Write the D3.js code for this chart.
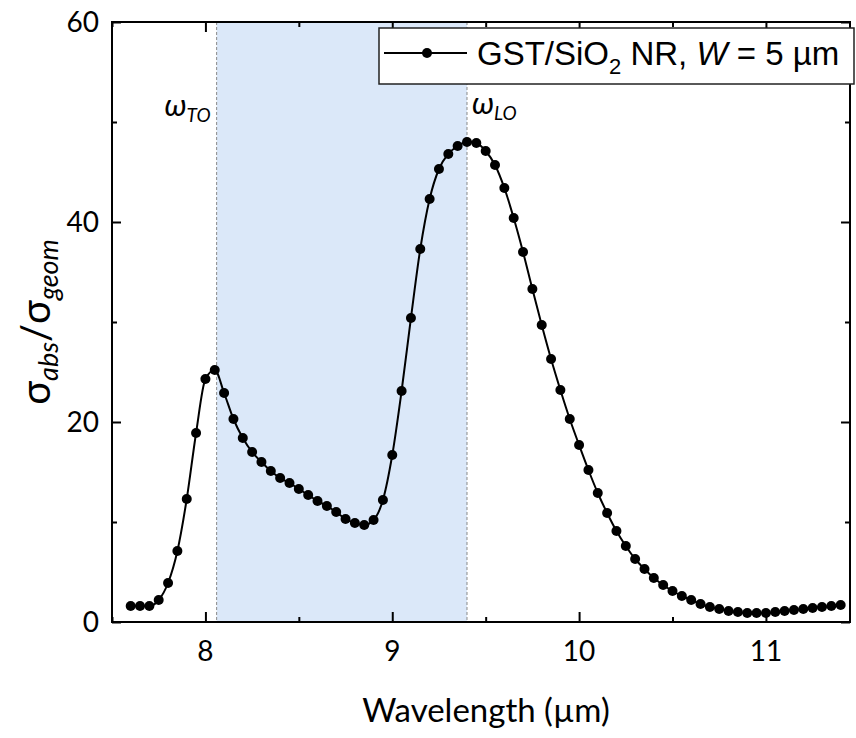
<!DOCTYPE html>
<html>
<head>
  <meta charset="utf-8">
  <script src="https://cdn.jsdelivr.net/npm/d3@7"></script>
  <style>
    * { margin: 0; padding: 0; }
    body { background: white; }
    .tick-label { font-family: Lato, "Open Sans", sans-serif; font-size: 28px; fill: black; }
    .axis-title { font-family: Lato, "Open Sans", sans-serif; fill: black; }
    .legend-text { font-family: "Liberation Sans", Arial, sans-serif; font-size: 33px; fill: black; }
  </style>
</head>
<body>
  <script>
    // data
    var wavelength = [7.60, 7.65, 7.70, 7.75, 7.80, 7.85, 7.90, 7.95, 8.00, 8.05,
      8.10, 8.15, 8.20, 8.25, 8.30, 8.35, 8.40, 8.45, 8.50, 8.55,
      8.60, 8.65, 8.70, 8.75, 8.80, 8.85, 8.90, 8.95, 9.00, 9.05,
      9.10, 9.15, 9.20, 9.25, 9.30, 9.35, 9.40, 9.45, 9.50, 9.55,
      9.60, 9.65, 9.70, 9.75, 9.80, 9.85, 9.90, 9.95, 10.00, 10.05,
      10.10, 10.15, 10.20, 10.25, 10.30, 10.35, 10.40, 10.45, 10.50, 10.55,
      10.60, 10.65, 10.70, 10.75, 10.80, 10.85, 10.90, 10.95, 11.00, 11.05,
      11.10, 11.15, 11.20, 11.25, 11.30, 11.35, 11.40];
    var sigmaRatio = [1.6, 1.6, 1.6, 2.2, 3.9, 7.1, 12.3, 18.9, 24.3, 25.2,
      22.9, 20.3, 18.4, 17.0, 16.0, 15.1, 14.4, 13.9, 13.3, 12.7,
      12.1, 11.6, 11.0, 10.3, 9.9, 9.7, 10.2, 12.2, 16.7, 23.1,
      30.4, 37.3, 42.3, 45.3, 46.8, 47.6, 48.0, 47.9, 47.1, 45.7,
      43.4, 40.4, 37.0, 33.3, 29.7, 26.3, 23.2, 20.3, 17.7, 15.2,
      12.9, 10.9, 9.1, 7.6, 6.3, 5.3, 4.4, 3.7, 3.1, 2.6,
      2.2, 1.8, 1.5, 1.3, 1.1, 1.0, 0.9, 0.9, 0.9, 1.0,
      1.1, 1.2, 1.3, 1.4, 1.5, 1.6, 1.7];
    var xTicks = [8, 9, 10, 11];
    var xMinor = [7.5, 8.5, 9.5, 10.5];
    var yTicks = [0, 20, 40, 60];
    var yMinor = [10, 30, 50];
    var omegaTO = 8.06;
    var omegaLO = 9.40;

    var w = 856, h = 738;
    var plotL = 112, plotR = 850, plotT = 22, plotB = 622;

    var x = d3.scaleLinear().domain([7.5, 11.45]).range([plotL, plotR]);
    var y = d3.scaleLinear().domain([0, 60]).range([plotB, plotT]);

    var svg = d3.select("body").append("svg")
      .attr("width", w)
      .attr("height", h);

    // reststrahlen band
    svg.append("rect")
      .attr("x", x(omegaTO))
      .attr("y", plotT)
      .attr("width", x(omegaLO) - x(omegaTO))
      .attr("height", plotB - plotT)
      .attr("fill", "#dbe8f9");

    svg.selectAll(".band-edge")
      .data([omegaTO, omegaLO])
      .enter().append("line")
      .attr("class", "band-edge")
      .attr("x1", function(d) { return x(d); })
      .attr("x2", function(d) { return x(d); })
      .attr("y1", plotT)
      .attr("y2", plotB)
      .attr("stroke", "#8a8a8a")
      .attr("stroke-width", 1)
      .attr("stroke-dasharray", "3,2");

    // axes: ticks pointing inward on all four sides, no labels from the generators
    function frame(axis, tr) {
      svg.append("g")
        .attr("transform", tr)
        .call(axis)
        .call(function(g) {
          g.selectAll("text").remove();
          g.select(".domain").remove();
          g.selectAll("line").attr("stroke", "black").attr("stroke-width", 2);
        });
    }
    frame(d3.axisBottom(x).tickValues(xTicks).tickSize(-10), "translate(0," + plotB + ")");
    frame(d3.axisBottom(x).tickValues(xMinor).tickSize(-5), "translate(0," + plotB + ")");
    frame(d3.axisTop(x).tickValues(xTicks).tickSize(-10), "translate(0," + plotT + ")");
    frame(d3.axisTop(x).tickValues(xMinor).tickSize(-5), "translate(0," + plotT + ")");
    frame(d3.axisLeft(y).tickValues(yTicks).tickSize(-9), "translate(" + plotL + ",0)");
    frame(d3.axisLeft(y).tickValues(yMinor).tickSize(-5), "translate(" + plotL + ",0)");
    frame(d3.axisRight(y).tickValues(yTicks).tickSize(-9), "translate(" + plotR + ",0)");
    frame(d3.axisRight(y).tickValues(yMinor).tickSize(-5), "translate(" + plotR + ",0)");

    svg.append("rect")
      .attr("x", plotL).attr("y", plotT)
      .attr("width", plotR - plotL).attr("height", plotB - plotT)
      .attr("fill", "none")
      .attr("stroke", "black")
      .attr("stroke-width", 2);

    // tick labels
    svg.selectAll(".xlab")
      .data(xTicks)
      .enter().append("text")
      .attr("class", "tick-label")
      .attr("x", function(d) { return x(d); })
      .attr("y", 661)
      .attr("text-anchor", "middle")
      .text(function(d) { return d; });

    svg.selectAll(".ylab")
      .data(yTicks)
      .enter().append("text")
      .attr("class", "tick-label")
      .attr("x", 99)
      .attr("y", function(d) { return y(d) + 10; })
      .attr("text-anchor", "end")
      .text(function(d) { return d; });

    // axis titles
    svg.append("text")
      .attr("class", "axis-title")
      .attr("x", 486)
      .attr("y", 722)
      .attr("text-anchor", "middle")
      .style("font-size", "33px")
      .text("Wavelength (µm)");

    var yt = svg.append("text")
      .attr("class", "axis-title")
      .attr("transform", "translate(50,322) rotate(-90)")
      .attr("text-anchor", "middle")
      .style("font-size", "40px");
    yt.append("tspan").text("σ");
    yt.append("tspan").attr("dy", 8).style("font-size", "27px").style("font-style", "italic").text("abs");
    yt.append("tspan").attr("dy", -8).text("/σ");
    yt.append("tspan").attr("dy", 8).style("font-size", "27px").style("font-style", "italic").text("geom");

    // omega labels
    var labTO = svg.append("text")
      .attr("class", "axis-title")
      .attr("x", x(omegaTO) - 6)
      .attr("y", 116)
      .attr("text-anchor", "end")
      .style("font-size", "31px")
      .style("font-style", "italic");
    labTO.append("tspan").text("ω");
    labTO.append("tspan").attr("dy", 6).style("font-size", "19px").text("TO");

    var labLO = svg.append("text")
      .attr("class", "axis-title")
      .attr("x", x(omegaLO) + 5)
      .attr("y", 114)
      .style("font-size", "31px")
      .style("font-style", "italic");
    labLO.append("tspan").text("ω");
    labLO.append("tspan").attr("dy", 6).style("font-size", "19px").text("LO");

    // data line and markers
    var pts = wavelength.map(function(d, i) { return [d, sigmaRatio[i]]; });
    var line = d3.line()
      .x(function(d) { return x(d[0]); })
      .y(function(d) { return y(d[1]); })
      .curve(d3.curveMonotoneX);

    svg.append("path")
      .datum(pts)
      .attr("d", line)
      .attr("fill", "none")
      .attr("stroke", "black")
      .attr("stroke-width", 2);

    svg.selectAll(".dot")
      .data(pts)
      .enter().append("circle")
      .attr("class", "dot")
      .attr("cx", function(d) { return x(d[0]); })
      .attr("cy", function(d) { return y(d[1]); })
      .attr("r", 5)
      .attr("fill", "black");

    // legend
    var lg = svg.append("g");
    lg.append("rect")
      .attr("x", 379).attr("y", 28)
      .attr("width", 475).attr("height", 56)
      .attr("fill", "white")
      .attr("stroke", "#222")
      .attr("stroke-width", 1.5);
    lg.append("line")
      .attr("x1", 384).attr("x2", 467)
      .attr("y1", 53).attr("y2", 53)
      .attr("stroke", "black").attr("stroke-width", 2);
    lg.append("circle")
      .attr("cx", 427).attr("cy", 53).attr("r", 5)
      .attr("fill", "black");
    var lt = lg.append("text")
      .attr("class", "legend-text")
      .attr("x", 477)
      .attr("y", 65);
    lt.append("tspan").text("GST/SiO");
    lt.append("tspan").attr("dy", 9).style("font-size", "22px").text("2");
    lt.append("tspan").attr("dy", -9).text(" NR, ");
    lt.append("tspan").style("font-style", "italic").text("W");
    lt.append("tspan").text(" = 5 µm");
  </script>
</body>
</html>
